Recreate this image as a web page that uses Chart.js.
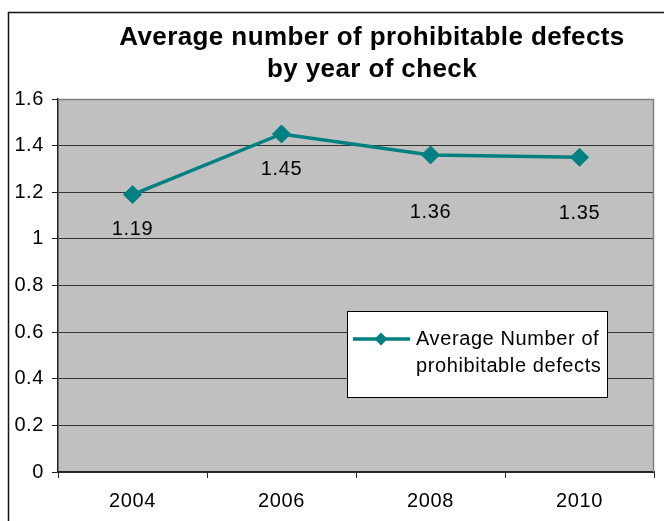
<!DOCTYPE html>
<html>
<head>
<meta charset="utf-8">
<script src="https://cdn.jsdelivr.net/npm/chart.js@4/dist/chart.umd.min.js"></script>
<style>
  html, body { margin: 0; padding: 0; background: #fff; }
  #wrap { width: 664px; height: 521px; }
</style>
</head>
<body>
<div id="wrap"><canvas id="chart" width="664" height="521"></canvas></div>
<script>
// Survey results: average prohibitable defects found per inspection year
const years = ['2004', '2006', '2008', '2010'];
const avgDefects = [1.19, 1.45, 1.36, 1.35];
const seriesLabel = ['Average Number of', 'prohibitable defects'];
const titleLines = ['Average number of prohibitable defects', 'by year of check'];

const TEAL = '#008080';
const FONT = "'Liberation Sans', Arial, sans-serif";

// Excel-style frame, grey plot area, title, value labels and boxed legend
const excelLook = {
  id: 'excelLook',
  beforeDraw(chart) {
    const { ctx, chartArea: a } = chart;
    ctx.save();
    ctx.fillStyle = '#fff';
    ctx.fillRect(0, 0, chart.width, chart.height);
    ctx.strokeStyle = '#111';
    ctx.lineWidth = 1.5;
    ctx.strokeRect(8.5, 12.5, 900, 700);
    ctx.fillStyle = '#C0C0C0';
    ctx.fillRect(a.left, a.top, a.right - a.left, a.bottom - a.top);
    ctx.restore();
    ctx.letterSpacing = '0.6px';
  },
  beforeDatasetsDraw(chart) {
    const { ctx, chartArea: a } = chart;
    ctx.save();
    ctx.strokeStyle = '#808080';
    ctx.lineWidth = 1.5;
    ctx.beginPath();
    ctx.moveTo(a.left, a.top + 0.5);
    ctx.lineTo(a.right - 0.5, a.top + 0.5);
    ctx.lineTo(a.right - 0.5, a.bottom);
    ctx.stroke();
    ctx.restore();
  },
  afterDatasetsDraw(chart, args, opts) {
    const { ctx } = chart;
    const meta = chart.getDatasetMeta(0);
    const data = chart.data.datasets[0].data;
    ctx.save();
    ctx.letterSpacing = '0.6px';
    ctx.font = '20px ' + FONT;
    ctx.fillStyle = '#000';
    ctx.textAlign = 'center';
    ctx.textBaseline = 'middle';
    meta.data.forEach((pt, i) => {
      ctx.fillText(String(data[i]), pt.x, pt.y + opts.labelDrop[i]);
    });
    ctx.restore();
  },
  afterDraw(chart, args, opts) {
    const { ctx } = chart;
    ctx.save();
    // title
    ctx.letterSpacing = '0.4px';
    ctx.font = 'bold 26px ' + FONT;
    ctx.fillStyle = '#000';
    ctx.textAlign = 'center';
    ctx.textBaseline = 'alphabetic';
    titleLines.forEach((t, i) => ctx.fillText(t, 372, 45 + i * 32));

    // legend box
    const L = opts.legend;
    ctx.fillStyle = '#fff';
    ctx.fillRect(L.x, L.y, L.w, L.h);
    ctx.strokeStyle = '#000';
    ctx.lineWidth = 1;
    ctx.strokeRect(L.x + 0.5, L.y + 0.5, L.w, L.h);
    const ly = L.y + 28;
    ctx.strokeStyle = TEAL;
    ctx.lineWidth = 3.5;
    ctx.beginPath();
    ctx.moveTo(L.x + 6, ly);
    ctx.lineTo(L.x + 63, ly);
    ctx.stroke();
    ctx.fillStyle = TEAL;
    const cx = L.x + 34, r = 6.5;
    ctx.beginPath();
    ctx.moveTo(cx, ly - r); ctx.lineTo(cx + r, ly); ctx.lineTo(cx, ly + r); ctx.lineTo(cx - r, ly);
    ctx.closePath();
    ctx.fill();
    ctx.letterSpacing = '0.6px';
    ctx.font = '20px ' + FONT;
    ctx.fillStyle = '#000';
    ctx.textAlign = 'left';
    ctx.textBaseline = 'middle';
    seriesLabel.forEach((t, i) => ctx.fillText(t, L.x + 69, ly + i * 27));
    ctx.restore();
  }
};

new Chart(document.getElementById('chart'), {
  type: 'line',
  data: {
    labels: years,
    datasets: [{
      label: seriesLabel.join(' '),
      data: avgDefects,
      borderColor: TEAL,
      backgroundColor: TEAL,
      borderWidth: 3.5,
      tension: 0,
      pointStyle: 'rectRot',
      pointRadius: 9,
      pointHoverRadius: 9,
      pointBorderWidth: 1,
      pointBorderColor: TEAL,
      pointBackgroundColor: TEAL
    }]
  },
  options: {
    responsive: false,
    animation: false,
    events: [],
    layout: { padding: { top: 99, right: 9, left: 0, bottom: 0 } },
    plugins: {
      legend: { display: false },
      title: { display: false },
      tooltip: { enabled: false },
      excelLook: {
        labelDrop: [35, 36, 58, 56],
        legend: { x: 347, y: 311, w: 260, h: 86 }
      }
    },
    scales: {
      x: {
        offset: true,
        grid: {
          offset: true,
          drawOnChartArea: false,
          drawTicks: true,
          tickLength: 6,
          tickColor: '#222',
          tickWidth: 1
        },
        border: { display: true, color: '#222', width: 1.5 },
        ticks: {
          color: '#000',
          font: { family: FONT, size: 20 },
          padding: 11,
          maxRotation: 0
        },
        afterFit(scale) { scale.height = 49; }
      },
      y: {
        min: 0,
        max: 1.6,
        grid: {
          color: ctx => (ctx.tick && ctx.tick.value >= 1.6 ? 'rgba(0,0,0,0)' : '#333'),
          lineWidth: 1,
          drawTicks: true,
          tickLength: 6,
          tickColor: '#222'
        },
        border: { display: true, color: '#222', width: 1.5 },
        ticks: {
          stepSize: 0.2,
          color: '#000',
          font: { family: FONT, size: 20 },
          padding: 8,
          callback: v => String(+Number(v).toFixed(1))
        },
        afterFit(scale) { scale.width = 58; }
      }
    }
  },
  plugins: [excelLook]
});
</script>
</body>
</html>
